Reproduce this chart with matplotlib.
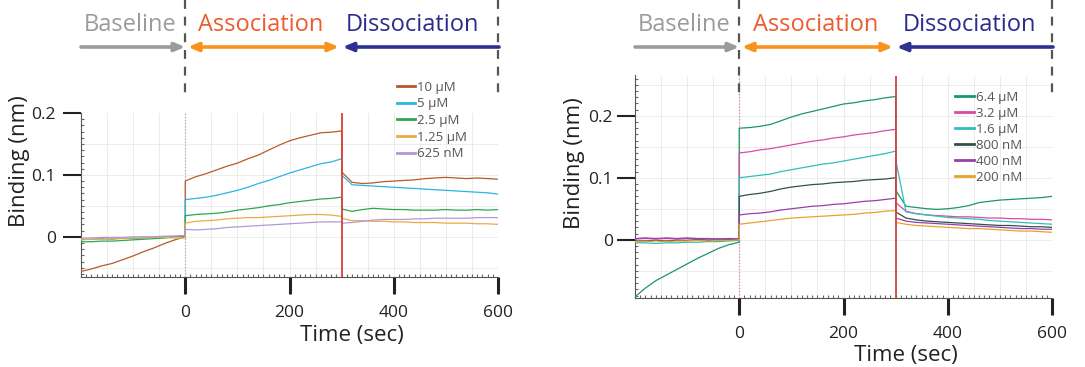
import numpy as np
import matplotlib
matplotlib.use("Agg")
import matplotlib.pyplot as plt
from matplotlib.transforms import blended_transform_factory
from matplotlib.lines import Line2D

plt.rcParams['font.family'] = ['Open Sans', 'DejaVu Sans']

# ---------------- data ----------------
T_BASE = [-200, -180, -160, -140, -120, -100, -80, -60, -40, -20, 0]
T_ASSOC = [0, 20, 40, 60, 80, 100, 120, 140, 160, 180, 200, 220, 240, 260, 280, 300]
T_DISS = [300, 320, 340, 360, 380, 400, 420, 440, 460, 480, 500, 520, 540, 560, 580, 600]
TIME = T_BASE + T_ASSOC + T_DISS

left_labels = ["10 \u00b5M", "5 \u00b5M", "2.5 \u00b5M", "1.25 \u00b5M", "625 nM"]
left_colors = ["#B65A2C", "#2BB5E2", "#2EA84F", "#E9AA48", "#B497D6"]
left_10uM = [-0.056, -0.052, -0.047, -0.043, -0.037, -0.031, -0.024, -0.018, -0.011, -0.005, 0.000,
             0.090, 0.097, 0.102, 0.108, 0.114, 0.119, 0.126, 0.132, 0.140, 0.148, 0.155, 0.160, 0.164, 0.168, 0.169, 0.171,
             0.105, 0.088, 0.086, 0.087, 0.089, 0.090, 0.091, 0.092, 0.094, 0.095, 0.096, 0.095, 0.094, 0.095, 0.094, 0.093]
left_5uM = [-0.004, -0.004, -0.003, -0.004, -0.002, -0.003, -0.002, -0.001, 0.000, 0.001, 0.002,
            0.060, 0.062, 0.064, 0.067, 0.071, 0.075, 0.080, 0.086, 0.091, 0.097, 0.103, 0.108, 0.113, 0.118, 0.121, 0.126,
            0.100, 0.084, 0.083, 0.082, 0.081, 0.080, 0.079, 0.078, 0.077, 0.076, 0.075, 0.074, 0.073, 0.072, 0.071, 0.069]
left_2_5uM = [-0.008, -0.008, -0.007, -0.007, -0.006, -0.005, -0.004, -0.003, -0.002, 0.000, 0.001,
              0.034, 0.036, 0.037, 0.038, 0.040, 0.043, 0.045, 0.047, 0.050, 0.052, 0.055, 0.057, 0.059, 0.061, 0.062, 0.064,
              0.045, 0.041, 0.044, 0.046, 0.045, 0.044, 0.044, 0.043, 0.043, 0.043, 0.044, 0.043, 0.043, 0.044, 0.043, 0.044]
left_1_25uM = [-0.005, -0.004, -0.004, -0.003, -0.003, -0.002, -0.002, -0.001, -0.001, -0.002, -0.002,
               0.022, 0.025, 0.026, 0.027, 0.029, 0.030, 0.031, 0.031, 0.032, 0.033, 0.034, 0.035, 0.036, 0.036, 0.035, 0.033,
               0.030, 0.026, 0.026, 0.025, 0.025, 0.024, 0.024, 0.023, 0.023, 0.023, 0.022, 0.022, 0.022, 0.021, 0.021, 0.020]
left_625nM = [-0.002, -0.002, -0.001, -0.001, -0.001, 0.000, 0.000, 0.000, 0.001, 0.001, 0.002,
              0.012, 0.011, 0.012, 0.013, 0.015, 0.016, 0.017, 0.018, 0.019, 0.020, 0.021, 0.022, 0.023, 0.024, 0.024, 0.024,
              0.022, 0.023, 0.025, 0.027, 0.028, 0.028, 0.028, 0.029, 0.029, 0.030, 0.030, 0.030, 0.030, 0.031, 0.031, 0.031]
left_series = [left_10uM, left_5uM, left_2_5uM, left_1_25uM, left_625nM]

right_labels = ["6.4 \u00b5M", "3.2 \u00b5M", "1.6 \u00b5M", "800 nM", "400 nM", "200 nM"]
right_colors = ["#1C9669", "#D84BAA", "#2DC0B8", "#34504C", "#9A3FA8", "#E9A12E"]
right_6_4uM = [-0.092, -0.078, -0.066, -0.057, -0.048, -0.039, -0.030, -0.022, -0.014, -0.008, -0.004,
               0.180, 0.181, 0.183, 0.186, 0.192, 0.198, 0.203, 0.207, 0.211, 0.215, 0.219, 0.221, 0.224, 0.226, 0.229, 0.231,
               0.080, 0.054, 0.052, 0.050, 0.049, 0.050, 0.052, 0.055, 0.060, 0.062, 0.064, 0.065, 0.066, 0.067, 0.068, 0.070]
right_3_2uM = [0.001, 0.002, 0.001, 0.002, 0.001, 0.002, 0.001, 0.001, 0.002, 0.001, 0.002,
               0.140, 0.142, 0.145, 0.147, 0.150, 0.153, 0.156, 0.159, 0.161, 0.164, 0.166, 0.169, 0.171, 0.173, 0.176, 0.178,
               0.060, 0.046, 0.042, 0.040, 0.039, 0.038, 0.037, 0.037, 0.036, 0.035, 0.035, 0.034, 0.034, 0.033, 0.033, 0.032]
right_1_6uM = [-0.005, -0.005, -0.006, -0.005, -0.005, -0.004, -0.004, -0.003, -0.003, -0.002, -0.001,
               0.100, 0.102, 0.104, 0.106, 0.110, 0.113, 0.116, 0.119, 0.122, 0.124, 0.127, 0.130, 0.133, 0.136, 0.139, 0.143,
               0.130, 0.045, 0.042, 0.040, 0.038, 0.036, 0.035, 0.034, 0.033, 0.031, 0.030, 0.029, 0.028, 0.027, 0.026, 0.025]
right_800nM = [-0.002, -0.002, -0.001, -0.002, -0.001, -0.001, 0.000, -0.001, 0.000, 0.000, 0.001,
               0.070, 0.073, 0.075, 0.078, 0.082, 0.085, 0.087, 0.089, 0.090, 0.092, 0.093, 0.094, 0.096, 0.097, 0.098, 0.100,
               0.045, 0.035, 0.032, 0.030, 0.029, 0.028, 0.027, 0.026, 0.025, 0.024, 0.023, 0.023, 0.022, 0.021, 0.021, 0.020]
right_400nM = [0.002, 0.003, 0.002, 0.003, 0.002, 0.003, 0.002, 0.002, 0.001, 0.002, 0.001,
               0.040, 0.042, 0.043, 0.045, 0.048, 0.050, 0.052, 0.054, 0.055, 0.057, 0.058, 0.060, 0.062, 0.063, 0.065, 0.067,
               0.035, 0.030, 0.028, 0.027, 0.026, 0.025, 0.024, 0.023, 0.022, 0.021, 0.020, 0.019, 0.018, 0.018, 0.017, 0.017]
right_200nM = [-0.003, -0.003, -0.002, -0.003, -0.002, -0.002, -0.001, -0.002, -0.001, -0.001, 0.000,
               0.025, 0.027, 0.029, 0.031, 0.033, 0.035, 0.036, 0.037, 0.038, 0.039, 0.040, 0.041, 0.043, 0.044, 0.046, 0.047,
               0.028, 0.025, 0.023, 0.022, 0.021, 0.020, 0.019, 0.018, 0.018, 0.017, 0.016, 0.015, 0.014, 0.014, 0.013, 0.012]
right_series = [right_6_4uM, right_3_2uM, right_1_6uM, right_800nM, right_400nM, right_200nM]

x_ticks = [0, 200, 400, 600]
y_ticks = [0, 0.1, 0.2]
y_ticklabels = ["0", "0.1", "0.2"]
phase_names = ["Baseline", "Association", "Dissociation"]

# ---------------- figure ----------------
W, H = 1085, 367
fig = plt.figure(figsize=(W / 100, H / 100), dpi=100)

def px_ax(x0, y_top, x1, y_bot):
    return fig.add_axes([x0 / W, 1 - y_bot / H, (x1 - x0) / W, (y_bot - y_top) / H])

axL = px_ax(81, 113, 498, 277)
axR = px_ax(635, 75.5, 1052, 298)

GRID = "#E9E9E9"
SPINE = "#555555"
RED = "#D8433C"

def style_axes(ax, ylim, zero_line_color, red_top, ylab_xy, xlab_xy, tick_pad_y):
    for s in ["top", "right"]:
        ax.spines[s].set_visible(False)
    for s in ["left", "bottom"]:
        ax.spines[s].set_color(SPINE)
        ax.spines[s].set_linewidth(0.8)
    # grid
    for gx in np.arange(-200, 601, 50):
        ax.axvline(gx, color=GRID, lw=0.6, zorder=0)
    for gy in np.arange(-0.1, 0.3, 0.05):
        if ylim[0] < gy < ylim[1]:
            ax.axhline(gy, color=GRID, lw=0.6, zorder=0)
    ax.set_xticks(x_ticks)
    ax.set_xticklabels([str(v) for v in x_ticks])
    ax.set_xticks(np.arange(-200, 601, 10), minor=True)
    ax.set_yticks(y_ticks)
    ax.set_yticklabels(y_ticklabels)
    ax.set_yticks([v for v in np.arange(-0.09, 0.27, 0.01) if ylim[0] <= v <= ylim[1]], minor=True)
    ax.set_xlim(-200, 600)
    ax.set_ylim(*ylim)
    ax.tick_params(axis="x", which="major", direction="out", length=12, width=2.2,
                   color="#222222", labelsize=12.5, pad=8, labelcolor="#222222")
    ax.tick_params(axis="y", which="major", direction="out", length=13, width=1.5,
                   color="#222222", labelsize=12.5, pad=tick_pad_y, labelcolor="#222222")
    ax.tick_params(which="minor", direction="in", length=2.5, width=0.8, color="#666666")
    # phase markers
    ax.axvline(0, color=zero_line_color, lw=0.9, ls=(0, (1, 1.5)), zorder=1)
    ax.plot([300, 300], [ylim[0], red_top], color=RED, lw=1.3, zorder=5)
    ax.set_ylabel("Binding (nm)", fontsize=16, color="#222222")
    ax.yaxis.set_label_coords(*ylab_xy)
    ax.text(xlab_xy[0], xlab_xy[1], "Time (sec)", transform=ax.transAxes,
            fontsize=16, ha="center", va="center", color="#222222")

def draw_series(ax, series, colors, labels):
    for vals, c, lab in zip(series, colors, labels):
        ax.plot(TIME, vals, color=c, lw=0.9, label=lab, zorder=3)

draw_series(axL, left_series, left_colors, left_labels)
draw_series(axR, right_series, right_colors, right_labels)

style_axes(axL, (-0.065, 0.2), "#AAAAAA", 0.2, (-0.122, 0.707), (0.65, -0.355), 5)
style_axes(axR, (-0.094, 0.265), "#E08080", 0.265, (-0.12, 0.604), (0.65, -0.257), 3)

axL.legend(handles=[Line2D([], [], color=c, lw=2) for c in left_colors], labels=left_labels,
           loc="upper left", bbox_to_anchor=(0.745, 1.23), frameon=False, fontsize=9.5,
           handlelength=1.4, handletextpad=0.15, labelspacing=0.28, borderaxespad=0,
           labelcolor="#555555")
axR.legend(handles=[Line2D([], [], color=c, lw=2) for c in right_colors], labels=right_labels,
           loc="upper left", bbox_to_anchor=(0.755, 0.955), frameon=False, fontsize=9.5,
           handlelength=1.4, handletextpad=0.15, labelspacing=0.23, borderaxespad=0,
           labelcolor="#555555")

# ---------------- header ----------------
TXT_COLORS = ["#9B9B9B", "#EE5B2D", "#2E2B8C"]
ARR_COLORS = ["#9B9B9B", "#F7941D", "#2E3192"]

def header(ax, text_x, y_text, y_arrow, y_dash_end):
    tr = blended_transform_factory(ax.transData, fig.transFigure)
    for x in (0, 600):
        fig.add_artist(Line2D([x, x], [1.0, y_dash_end], transform=tr, color="#555555",
                              lw=1.6, ls=(0, (4, 3.5))))
    for name, tx, c in zip(phase_names, text_x, TXT_COLORS):
        fig.text(tx, y_text, name, transform=tr, ha="center", va="center",
                 fontsize=17, color=c)
    kw = dict(xycoords=tr, textcoords=tr)
    ax.annotate("", xy=(0, y_arrow), xytext=(-200, y_arrow),
                arrowprops=dict(arrowstyle="-|>,head_length=0.6,head_width=0.25", color=ARR_COLORS[0],
                                lw=2.6, shrinkA=0, shrinkB=0), annotation_clip=False, **kw)
    ax.annotate("", xy=(5, y_arrow), xytext=(295, y_arrow),
                arrowprops=dict(arrowstyle="<|-|>,head_length=0.6,head_width=0.25", color=ARR_COLORS[1],
                                lw=2.6, shrinkA=0, shrinkB=0), annotation_clip=False, **kw)
    ax.annotate("", xy=(302, y_arrow), xytext=(602, y_arrow),
                arrowprops=dict(arrowstyle="-|>,head_length=0.6,head_width=0.25", color=ARR_COLORS[2],
                                lw=2.6, shrinkA=0, shrinkB=0), annotation_clip=False, **kw)

header(axL, [-105, 144, 435], 1 - 25 / H, 1 - 47 / H, 1 - 98 / H)
header(axR, [-105, 146, 442], 1 - 25 / H, 1 - 47 / H, 1 - 97 / H)

fig.savefig("out.png", dpi=100)
